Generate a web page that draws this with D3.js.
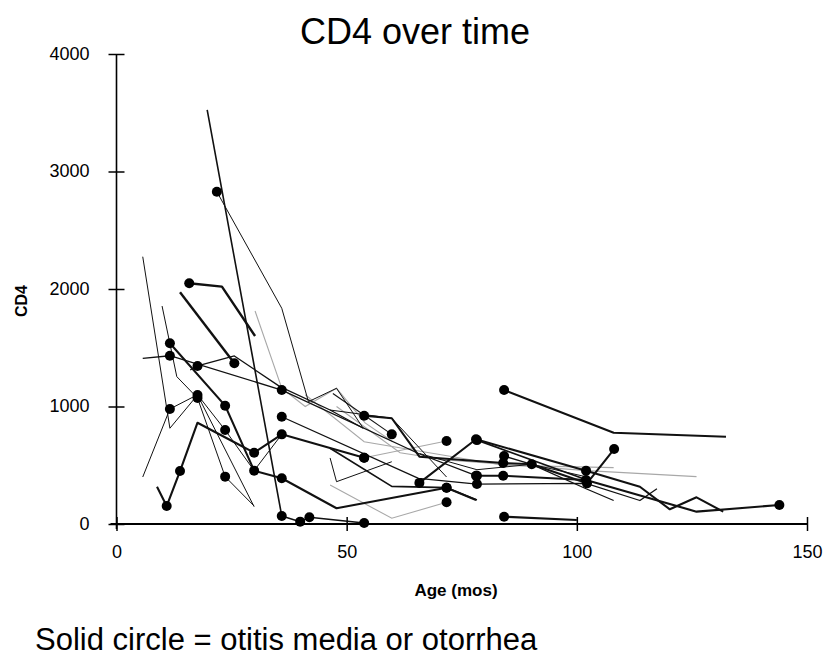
<!DOCTYPE html>
<html><head><meta charset="utf-8">
<script src="https://cdn.jsdelivr.net/npm/d3@7"></script>
<style>body{margin:0;background:#fff}svg{display:block}text{font-family:"Liberation Sans",Arial,sans-serif}</style>
</head><body><svg id="c" width="823" height="659"></svg>
<script>
const xTicks = [0, 50, 100, 150];
const yTicks = [0, 1000, 2000, 3000, 4000];
// each series: [age (mos), CD4, otitis flag (1 = solid circle)]
const s01 = [[19.7,3524,0],[35.9,68,1],[39.9,20,1],[41.9,57,1],[53.8,9,1]];
const s02 = [[21.8,2828,1],[35.9,1836,0],[41.7,1041,0],[47.8,1155,0],[53.6,815,0]];
const s03 = [[15.8,2049,1],[22.9,2020,0],[30.1,1600,0]];
const s04 = [[13.8,1972,0],[25.6,1368,1]];
const s05 = [[5.7,2275,0],[11.6,815,0],[17.6,1098,1],[29.9,147,0]];
const s06 = [[9.9,1855,0],[13.1,1254,0],[17.6,1072,1],[23.6,403,1],[29.9,153,0]];
const s07 = [[5.7,1410,0],[11.6,1432,1],[35.9,1140,1],[65.6,600,0],[78.1,411,1]];
const s08 = [[11.6,1538,1],[23.6,1007,1],[29.9,454,1],[35.9,389,1],[47.8,134,0],[71.7,309,1],[78.1,204,0]];
const s09 = [[8.8,317,0],[10.9,153,1],[13.8,451,1],[17.6,862,0],[25.4,700,0],[29.9,607,1],[35.9,763,1],[53.8,564,1]];
const s10 = [[16.0,1311,0],[17.6,1345,1],[25.6,1430,0],[35.5,1169,0],[46.4,970,0],[53.6,815,0]];
const s11 = [[5.7,400,0],[11.6,979,1],[17.6,1100,0],[23.6,800,1],[29.9,454,0],[35.9,763,0]];
const s12 = [[53.8,922,1],[59.8,900,0],[65.8,573,0],[84.0,519,1],[90.2,508,1],[102.2,346,1],[108.1,638,1]];
const s13 = [[47.0,1110,0],[59.8,763,1]];
const s14 = [[65.8,350,1],[78.1,721,1],[102.0,454,1],[113.7,317,0],[120.2,125,0],[126.0,227,0],[131.8,105,0]];
const s15 = [[84.2,1140,1],[108.0,777,0],[132.4,743,0]];
const s16 = [[84.2,62,1],[100.0,34,0]];
const s17 = [[78.3,411,1],[84.0,411,1],[102.0,374,1],[126.0,105,0],[144.0,162,1]];
const s18 = [[35.9,913,1],[65.6,389,0],[78.3,340,1],[102.0,346,0],[113.7,200,0],[117.4,300,0]];
const s19 = [[46.4,970,0],[59.8,900,0],[71.7,400,0]];
const s20 = [[46.4,645,0],[59.8,320,0],[71.7,309,1],[78.3,204,0]];
const s21 = [[46.4,562,0],[47.8,360,0],[59.8,530,0]];
const s22 = [[78.3,714,1],[102.2,374,0]];
const s23 = [[84.2,578,1],[90.2,508,0],[102.0,300,0],[108.0,200,0]];
const s24 = [[65.8,600,0],[78.3,462,0],[90.2,508,0],[102.2,400,0]];
// grey series
const g01 = [[30.1,1813,0],[35.9,1155,0],[41.0,1000,0],[47.8,1155,0],[54.0,860,0],[60.0,700,0]];
const g02 = [[47.8,1000,0],[61.6,607,0],[71.7,545,0],[102.2,454,0],[126.0,403,0]];
const g03 = [[53.8,564,1],[71.7,706,1]];
const g04 = [[46.4,332,0],[59.8,49,0],[71.7,185,1]];
const g05 = [[41.0,1100,0],[53.8,700,0],[84.0,500,0],[108.0,480,0]];

const blackSeries = [
  {d:s01,w:1.6},{d:s02,w:1},{d:s03,w:2.4},{d:s04,w:2.4},{d:s05,w:1},{d:s06,w:1},
  {d:s07,w:1.3},{d:s08,w:2.1},{d:s09,w:2.1},{d:s10,w:1.3},{d:s11,w:1},{d:s12,w:2.1},
  {d:s13,w:1.1},{d:s14,w:2.1},{d:s15,w:2.1},{d:s16,w:2.1},{d:s17,w:2.1},{d:s18,w:1.3},
  {d:s19,w:1},{d:s20,w:1.7},{d:s21,w:1},{d:s22,w:1.7},{d:s23,w:1.3},{d:s24,w:1}
];
const greySeries = [g01,g02,g03,g04,g05];

const svg = d3.select("#c");
const x = d3.scaleLinear().domain([0,150]).range([116.5,807]);
const y = d3.scaleLinear().domain([0,4000]).range([524,54]);

// title
svg.append("text").attr("x",415).attr("y",44).attr("text-anchor","middle")
  .attr("font-size",36).text("CD4 over time");

// axes
const gy = svg.append("g").attr("transform",`translate(${x(0)},0)`)
  .call(d3.axisLeft(y).tickValues(yTicks).tickSize(8).tickPadding(19).tickFormat(d3.format("d")));
gy.select(".domain").remove();
gy.selectAll(".tick line").attr("x1",8).attr("stroke","#000").attr("stroke-width",1.5);
gy.selectAll(".tick text").attr("font-size",18).attr("font-family","Liberation Sans, Arial, sans-serif").attr("dy","0.3em");
svg.append("line").attr("x1",x(0)).attr("x2",x(0)).attr("y1",y(4000)).attr("y2",y(0)+5)
  .attr("stroke","#000").attr("stroke-width",1.6);

const gx = svg.append("g").attr("transform",`translate(0,${y(0)})`)
  .call(d3.axisBottom(x).tickValues(xTicks).tickSize(7).tickPadding(14));
gx.select(".domain").remove();
gx.selectAll(".tick line").attr("y1",-7).attr("stroke","#000").attr("stroke-width",1.5);
gx.selectAll(".tick text").attr("font-size",18).attr("font-family","Liberation Sans, Arial, sans-serif");
svg.append("line").attr("x1",x(0)-6).attr("x2",x(150)).attr("y1",y(0)).attr("y2",y(0))
  .attr("stroke","#000").attr("stroke-width",2);

// axis titles
svg.append("text").attr("transform",`translate(27,${y(2000)+12}) rotate(-90)`)
  .attr("text-anchor","middle").attr("font-size",16).attr("font-weight","bold").text("CD4");
svg.append("text").attr("x",456).attr("y",596).attr("text-anchor","middle")
  .attr("font-size",17).attr("font-weight","bold").text("Age (mos)");

// lines
const line = d3.line().x(d=>x(d[0])).y(d=>y(d[1]));
const plot = svg.append("g");
plot.selectAll("path.g").data(greySeries).join("path").attr("class","g")
  .attr("d",line).attr("fill","none").attr("stroke","#a8a8a8").attr("stroke-width",1.1);
plot.selectAll("path.b").data(blackSeries).join("path").attr("class","b")
  .attr("d",s=>line(s.d)).attr("fill","none").attr("stroke","#111").attr("stroke-width",s=>s.w)
  .attr("stroke-linejoin","round");

const dots = blackSeries.flatMap(s=>s.d).concat(greySeries.flat()).filter(d=>d[2]===1);
plot.selectAll("circle").data(dots).join("circle")
  .attr("cx",d=>x(d[0])).attr("cy",d=>y(d[1])).attr("r",5).attr("fill","#000");

// caption
svg.append("text").attr("x",35).attr("y",650).attr("font-size",31)
  .text("Solid circle = otitis media or otorrhea");
</script></body></html>
